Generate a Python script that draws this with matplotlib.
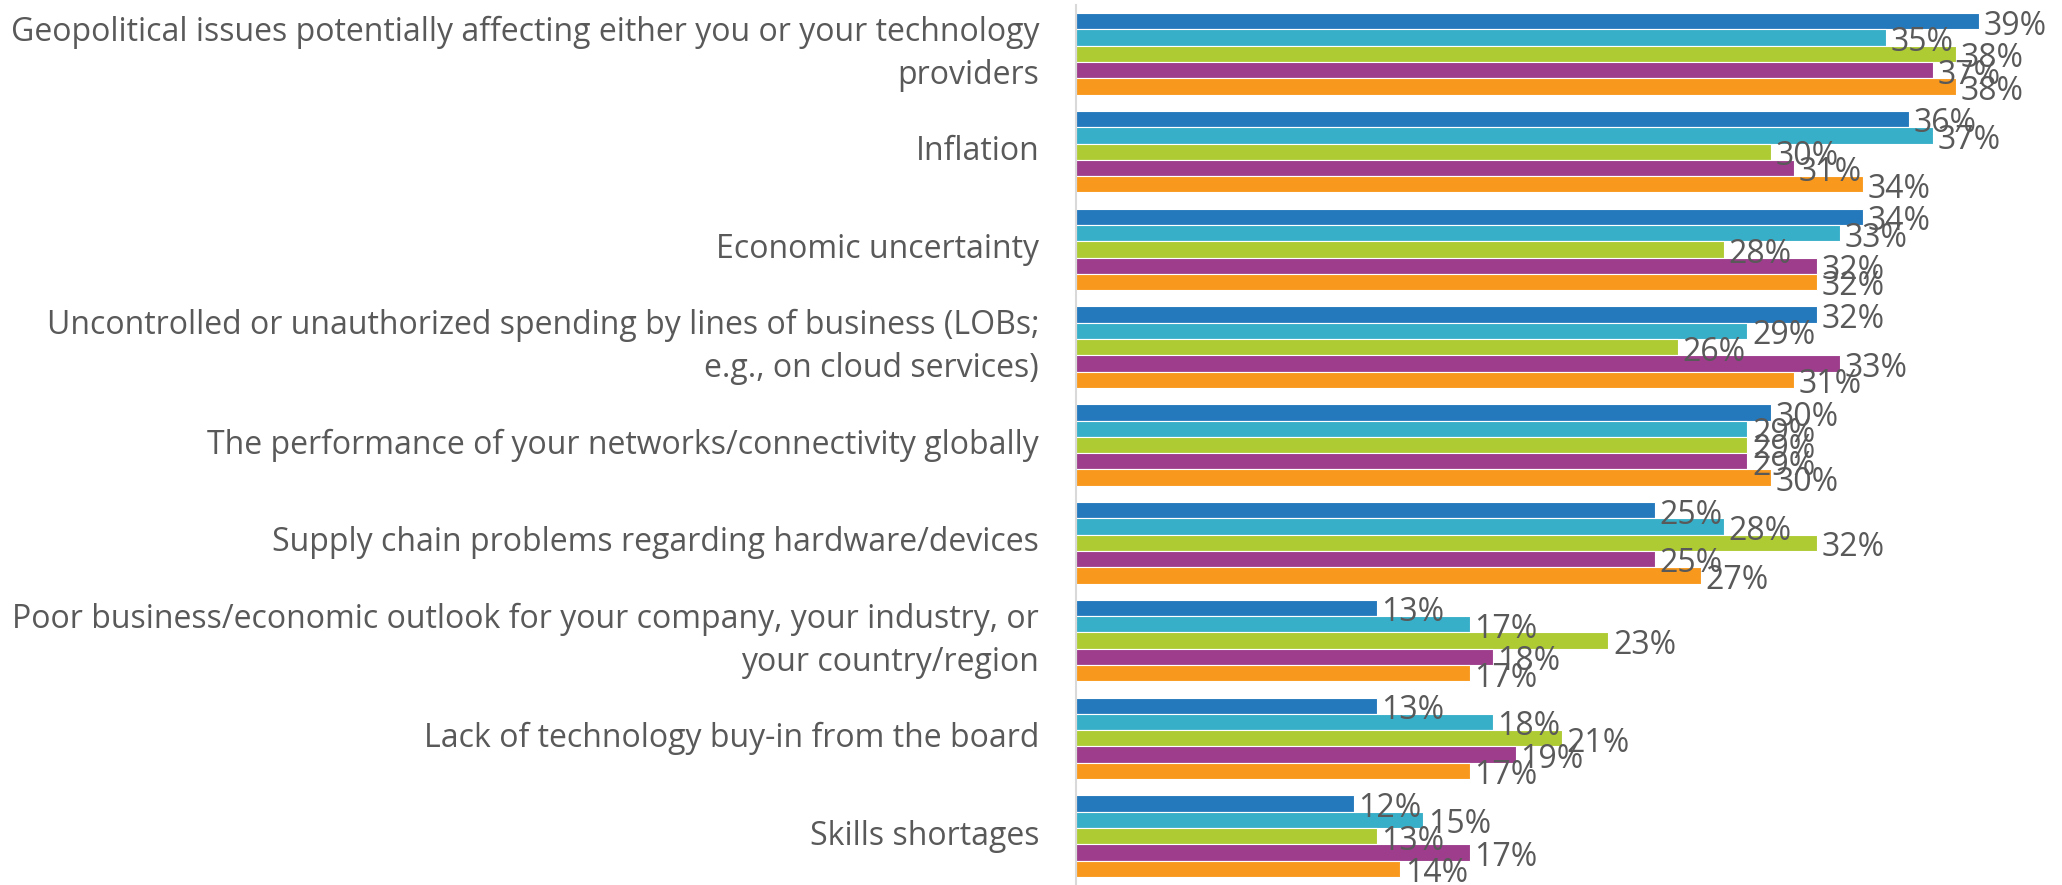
import matplotlib
matplotlib.use("Agg")
import matplotlib.pyplot as plt
import numpy as np

plt.rcParams['font.family'] = ['Open Sans', 'DejaVu Sans']

categories = [
    "Geopolitical issues potentially affecting either you or your technology\nproviders",
    "Inflation",
    "Economic uncertainty",
    "Uncontrolled or unauthorized spending by lines of business (LOBs;\ne.g., on cloud services)",
    "The performance of your networks/connectivity globally",
    "Supply chain problems regarding hardware/devices",
    "Poor business/economic outlook for your company, your industry, or\nyour country/region",
    "Lack of technology buy-in from the board",
    "Skills shortages",
]

series_1 = [39, 36, 34, 32, 30, 25, 13, 13, 12]
series_2 = [35, 37, 33, 29, 29, 28, 17, 18, 15]
series_3 = [38, 30, 28, 26, 29, 32, 23, 21, 13]
series_4 = [37, 31, 32, 33, 29, 25, 18, 19, 17]
series_5 = [38, 34, 32, 31, 30, 27, 17, 17, 14]

colors = ['#2479BD', '#38AFC9', '#AECB33', '#9D3D8B', '#F8991D']
text_color = '#595959'

fig = plt.figure(figsize=(20.62, 8.85), dpi=100)
ax = fig.add_axes([1076 / 2062, 0, 1 - 1076 / 2062, 1 - 5 / 885])

all_series = [series_1, series_2, series_3, series_4, series_5]
y = np.arange(len(categories))
h = 1 / 6
for k, vals in enumerate(all_series):
    pos = y - 2 * h + k * h
    ax.barh(pos, vals, height=h, color=colors[k], edgecolor='white', linewidth=0.8)
    for p, v in zip(pos, vals):
        ax.text(v + 0.2, p + 0.05, f"{v}%", va='center', ha='left', fontsize=23, color=text_color)

ax.set_ylim(len(categories) - 0.5, -0.5)
ax.set_xlim(0, (2062 - 1076) / 23.15)
ax.set_yticks(y)
ax.set_yticklabels(categories, fontsize=23, color=text_color, linespacing=1.41, va='center')
ax.tick_params(axis='y', length=0, pad=26.5)
ax.set_xticks([])
for s in ['top', 'right', 'bottom']:
    ax.spines[s].set_visible(False)
ax.spines['left'].set_color('#D9D9D9')
ax.spines['left'].set_linewidth(1.5)

fig.savefig('out.png', dpi=100)
